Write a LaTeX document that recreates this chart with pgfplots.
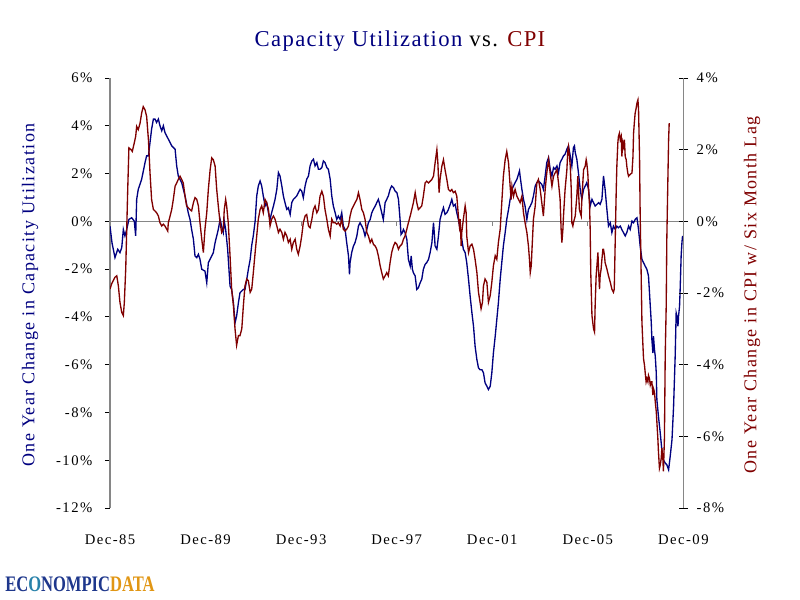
\documentclass[border=0pt]{standalone}
\usepackage{fontspec}
\setmainfont{Liberation Serif}
\newfontfamily\tickfont{Liberation Serif}[LetterSpace=10]
\newfontfamily\labfont{Liberation Serif}[LetterSpace=8]
\newfontfamily\titfont{Liberation Serif}[LetterSpace=6]
\usepackage{graphicx}
\usepackage{pgfplots}
\pgfplotsset{compat=1.18}
\definecolor{cunavy}{RGB}{0,0,128}
\definecolor{cpired}{RGB}{128,0,0}
\definecolor{axgray}{RGB}{134,134,134}
\definecolor{logoblue}{RGB}{30,55,140}
\definecolor{logoglobe}{RGB}{40,130,170}
\definecolor{logogold}{RGB}{225,150,20}
\begin{document}
\begin{tikzpicture}
\path[use as bounding box, fill=white] (0,0) rectangle (600pt,450pt);
\begin{axis}[
  at={(82.5pt,69pt)}, anchor=south west, scale only axis,
  width=430pt, height=322.5pt,
  xmin=0, xmax=288, ymin=-12, ymax=6,
  axis y line*=left, axis x line*=bottom,
  x axis line style={draw=none},
  xtick={0,48,96,144,192,240,288},
  xticklabels={Dec-85,Dec-89,Dec-93,Dec-97,Dec-01,Dec-05,Dec-09},
  major x tick style={draw=none},
  ytick={-12,-10,-8,-6,-4,-2,0,2,4,6},
  yticklabels={-12\%,-10\%,-8\%,-6\%,-4\%,-2\%,0\%,2\%,4\%,6\%},
  y axis line style={axgray, line width=0.8pt},
  major y tick style={black, line width=0.6pt},
  tick align=outside, major tick length=3.75pt,
  ticklabel style={font=\tickfont\fontsize{11}{13}\selectfont},
  xticklabel style={yshift=-13pt},
  yticklabel style={xshift=-6pt},
]
\draw[axgray, line width=0.8pt] (axis cs:0,0) -- (axis cs:288,0);
\pgfplotsinvokeforeach{48,96,144,192,240}{\draw[axgray, line width=0.6pt] (axis cs:#1,0) -- ++(0pt,-3.5pt);}
\addplot[cunavy, line width=1pt] coordinates {
(0,-0.2) (1,-0.9) (2.5,-1.52) (3.9,-1.17) (5.0,-1.31) (5.9,-1.10) (6.7,-0.34) (7.5,-0.61) (8.4,-0.34) (9.5,0.08) (10.9,0.15) (12.2,0.01) (12.9,-0.61) (13.4,0.92) (14.2,1.34) (15.9,1.76) (17.6,2.46) (18.4,2.74) (19.3,2.74) (20.1,3.30) (20.9,3.86) (21.8,4.28) (22.6,4.28) (23.4,4.14) (24.3,4.28) (25.1,4.0) (26.0,3.79) (26.8,4.0) (27.6,3.72) (29.3,3.44) (31.0,3.16) (32.7,3.02) (33.5,2.32) (34.3,1.90) (36.0,1.62) (37.7,1.06) (39.3,0.36) (40.2,0.08) (41.0,-0.34) (41.9,-0.75) (42.7,-1.45) (43.6,-1.52) (44.4,-1.38) (45.2,-1.59) (46.1,-2.01) (47.7,-2.08) (48.6,-2.57) (49.4,-1.73) (51.1,-1.45) (51.9,-1.31) (52.8,-0.89) (54.4,-0.34) (55.3,0.08) (56.1,-0.2) (56.9,-0.47) (57.4,0.01) (58.1,-0.34) (59.1,-1.17) (60.3,-2.71) (61.1,-2.85) (62.0,-3.41) (62.8,-4.25) (63.6,-3.97) (64.5,-3.41) (65.3,-2.99) (67.0,-2.85) (67.8,-2.85) (68.7,-2.43) (69.5,-2.01)
(70.4,-1.6) (71.2,-1.0) (72.0,-0.6) (72.9,0.0) (73.7,1.06) (74.5,1.48) (75.4,1.69) (76.2,1.48) (77.0,1.06) (77.9,0.64) (78.7,0.78) (79.6,0.36) (80.4,0.08) (81.2,0.36) (82.1,0.64) (82.9,0.92) (83.8,1.34) (84.6,2.04) (85.4,1.90) (86.3,1.48) (87.1,1.06) (87.9,0.78) (88.8,0.50) (89.6,0.57) (90.5,0.29) (91.3,0.78) (92.1,0.92) (93.0,0.99) (93.8,1.06) (94.6,1.20) (95.5,1.34) (96.3,1.27) (97.1,0.99) (98.0,1.48) (98.8,1.76) (99.7,1.90) (100.5,2.32) (101.4,2.53) (102.2,2.60) (103.0,2.32) (103.9,2.46) (104.7,2.18) (105.5,2.18) (106.4,2.25) (107.2,2.53) (108.0,2.46) (108.9,2.25) (109.7,2.18) (110.6,1.76) (111.4,1.06) (112.2,0.64) (113.1,0.36) (113.9,0.08) (114.7,0.22) (115.6,0.08) (116.4,0.36) (117.2,-0.2) (118.1,-0.34) (118.9,-0.89) (119.8,-1.45) (120.3,-2.22) (120.6,-1.73) (121.4,-1.31) (122.3,-1.03) (123.1,-0.89) (124.0,-0.61) (124.8,-0.2) (125.6,-0.06) (126.5,-0.2) (127.3,-0.34) (128.1,-0.61) (129.0,-0.34) (129.8,-0.06) (130.7,0.08) (131.5,0.36) (132.3,0.50) (133.2,0.64) (134.0,0.78) (134.8,0.92) (135.7,0.64) (136.5,0.36) (137.3,0.08) (138.2,0.78) (139.0,0.92) (139.8,1.06) (140.7,1.34) (141.5,1.48) (142.4,1.41)
(143.2,1.27) (144.1,1.20) (144.9,0.92) (145.7,0.08) (146.2,-0.55) (146.9,-0.47) (147.4,-0.34) (148.2,-0.47) (149.1,-0.75) (149.9,-1.59) (150.8,-1.87) (151.3,-1.45) (151.9,-2.01) (152.4,-2.15) (153.3,-2.29) (154.1,-2.85) (154.9,-2.78) (155.8,-2.57) (156.6,-2.43) (157.4,-2.01) (158.3,-1.80) (159.1,-1.73) (160.0,-1.59) (160.8,-1.31) (161.7,-0.89) (162.5,-0.06) (163.0,-0.61) (163.3,-1.03) (164.2,-1.17) (165.0,-0.61) (165.8,0.08) (166.7,0.36) (167.5,0.57) (168.3,0.29) (169.2,0.36) (170.0,0.50) (170.9,0.71) (171.7,0.92) (172.5,0.64) (173.4,0.71) (174.2,0.36) (175.0,0.08) (175.9,-0.34) (176.7,-0.75) (177.5,-1.17) (178.4,-1.31) (179.2,-1.73) (180.1,-2.43) (180.9,-3.13) (181.8,-3.83) (182.6,-4.39) (183.4,-5.23) (184.3,-5.79) (185.1,-6.14) (185.9,-6.21) (186.8,-6.21) (187.6,-6.34) (188.4,-6.76) (189.3,-6.90) (190.1,-7.04) (191.0,-6.90) (191.8,-6.34) (192.6,-5.51) (193.5,-4.81) (194.3,-4.11) (195.1,-3.41) (196.0,-2.43) (196.8,-1.73) (197.6,-1.03) (198.5,-0.47) (199.3,0.08) (200.2,0.50) (201.0,0.92) (201.9,1.34) (202.7,1.48) (203.5,1.62) (204.4,1.76) (205.2,1.97) (205.7,2.11) (206.0,1.90) (206.9,1.34) (207.7,0.92) (208.5,0.64) (209.4,0.08) (210.2,0.50) (211.1,0.64) (211.9,0.78) (212.7,1.06) (213.6,1.48) (214.4,1.62) (215.2,1.69)
(216.1,1.62) (216.9,1.55) (217.7,1.34) (218.6,1.90) (219.4,2.46) (220.3,2.67) (221.1,2.18) (222.0,1.90) (222.8,2.25) (223.6,2.18) (224.5,2.32) (225.3,2.04) (226.1,2.46) (227.0,2.60) (227.8,2.74) (228.6,2.81) (229.5,3.02) (230.3,3.16) (231.2,2.74) (232.0,2.32) (232.8,3.09) (233.3,3.16) (233.7,2.88) (234.5,2.60) (235.3,2.04) (236.2,1.34) (237.0,0.92) (237.9,1.34) (238.7,1.48) (239.5,1.62) (240.4,1.34) (241.2,0.64) (242.1,0.92) (242.9,0.78) (243.7,0.64) (244.6,0.71) (245.4,0.78) (246.2,0.71) (247.1,0.92) (247.9,1.90) (248.7,1.34) (249.6,0.50) (250.4,-0.2) (251.3,-0.06) (252.1,-0.47) (252.9,-0.2) (253.8,-0.34) (254.6,-0.2) (255.4,-0.27) (256.3,-0.2) (257.1,-0.34) (257.9,-0.47) (258.8,-0.61) (259.6,-0.47) (260.5,-0.2) (261.3,-0.34) (262.2,0.01) (263.0,-0.06) (263.8,0.08) (264.7,0.15) (265.5,-0.34) (266.3,-1.03) (267.2,-1.59) (268.0,-1.73) (268.8,-1.87) (269.7,-2.01) (270.5,-2.29) (271.4,-3.55) (271.9,-4.25) (272.2,-4.95) (272.7,-5.51) (273.0,-4.81) (273.5,-5.37) (273.9,-5.65) (274.4,-6.34) (274.7,-7.46) (275.5,-8.16) (276.4,-8.86) (277.2,-9.56) (278.0,-9.98) (278.9,-10.12) (279.7,-10.19) (280.6,-10.40) (281.4,-9.84) (282.3,-9.14) (283.1,-7.74) (283.9,-5.65) (284.4,-3.83) (284.8,-3.97) (285.3,-4.39) (285.6,-3.97) (286.1,-3.55) (286.4,-2.85) (286.9,-1.45) (287.3,-0.89) (287.6,-0.61)
};
\end{axis}
\begin{axis}[
  at={(82.5pt,69pt)}, anchor=south west, scale only axis,
  width=430pt, height=322.5pt,
  xmin=0, xmax=288, ymin=-8, ymax=4,
  axis y line*=right, axis x line=none,
  ytick={-8,-6,-4,-2,0,2,4},
  yticklabels={-8\%,-6\%,-4\%,-2\%,0\%,2\%,4\%},
  y axis line style={axgray, line width=0.8pt},
  major y tick style={black, line width=0.6pt},
  tick align=center, major tick length=7pt,
  yticklabel style={font=\tickfont\fontsize{11}{13}\selectfont, xshift=3pt},
]
\addplot[cpired, line width=1pt] coordinates {
(0,-1.89) (0.8,-1.75) (2.5,-1.56) (3.4,-1.52) (4.2,-1.80) (5.0,-2.26) (5.9,-2.54) (6.7,-2.63) (7.2,-2.26) (7.9,-1.33) (8.4,-0.22) (8.9,0.89) (9.5,2.05) (10.6,2.0) (11.2,1.95) (12.2,2.19) (12.9,2.37) (13.4,2.65) (14.2,2.56) (15.1,2.74) (15.9,3.02) (16.7,3.20) (17.6,3.11) (18.4,2.93) (19.3,2.28) (20.1,1.35) (20.9,0.61) (21.8,0.33) (22.6,0.29) (23.4,0.24) (24.3,0.15) (25.1,-0.04) (26.0,-0.13) (26.8,-0.08) (27.6,-0.13) (28.5,-0.22) (29.0,-0.27) (29.3,-0.04) (30.2,0.15) (31.0,0.33) (31.8,0.61) (32.7,0.98) (33.5,1.07) (34.3,1.17) (35.2,1.26) (36.0,1.17) (36.8,1.07) (37.7,0.70) (38.5,0.43) (39.3,0.38) (40.2,0.33) (41.0,0.29) (41.9,0.52) (42.7,0.66) (43.6,0.61) (44.4,0.43) (45.2,-0.04) (46.1,-0.50) (46.9,-0.87) (47.7,-0.22) (48.6,0.24) (49.4,0.89) (50.3,1.44) (51.1,1.77) (51.9,1.72) (52.8,1.54) (53.6,0.89) (54.4,0.43) (55.3,-0.04) (56.1,-0.31) (56.9,-0.22) (57.4,0.33) (58.1,0.61) (58.6,0.43) (59.4,-0.04) (60.3,-0.96) (61.1,-1.89) (62.0,-2.35) (62.8,-3.0) (63.6,-3.46) (64.5,-3.19) (65.3,-3.19) (66.2,-3.0) (67.0,-2.35) (67.8,-1.80) (68.7,-1.61) (69.5,-1.66)
(70.4,-1.98) (71.2,-1.89) (72.0,-1.43) (72.9,-0.87) (73.7,-0.41) (74.5,0.06) (75.4,0.33) (76.2,0.43) (77.0,0.24) (77.9,0.61) (78.7,0.52) (79.6,0.33) (80.4,-0.13) (81.2,0.06) (82.1,0.15) (82.9,0.06) (83.8,-0.13) (84.6,-0.31) (85.4,-0.22) (86.3,-0.31) (87.1,-0.50) (87.9,-0.31) (88.8,-0.41) (89.6,-0.59) (90.5,-0.50) (91.3,-0.78) (92.1,-0.59) (93.0,-0.50) (93.8,-0.78) (94.6,-0.92) (95.5,-0.69) (96.3,-0.41) (97.1,-0.04) (98.0,0.15) (98.8,0.19) (99.7,-0.13) (100.5,-0.18) (101.4,0.06) (102.2,0.33) (103.0,0.43) (103.9,0.24) (104.7,0.33) (105.5,0.70) (106.4,0.84) (107.2,0.70) (108.0,0.33) (108.9,0.06) (109.7,-0.22) (110.6,-0.41) (111.4,0.06) (112.2,-0.04) (113.1,-0.04) (113.9,-0.08) (114.7,-0.04) (115.6,-0.13) (116.4,0.06) (117.2,-0.22) (118.1,-0.27) (118.9,-0.22) (119.8,-0.13) (120.6,0.15) (121.4,0.33) (122.3,0.43) (123.1,0.52) (124.0,0.61) (124.8,0.80) (125.6,0.61) (126.5,0.33) (127.3,0.24) (128.1,0.06) (129.0,-0.31) (129.8,-0.41) (130.7,-0.59) (131.5,-0.50) (132.3,-0.64) (133.2,-0.69) (134.0,-0.78) (134.8,-0.96) (135.7,-1.24) (136.5,-1.43) (137.3,-1.61) (138.2,-1.52) (139.0,-1.43) (139.8,-1.52) (140.7,-1.15) (141.5,-0.87) (142.4,-0.69)
(143.2,-0.59) (144.1,-0.64) (144.9,-0.78) (145.7,-0.69) (146.6,-0.64) (147.4,-0.50) (148.2,-0.41) (149.1,-0.22) (149.9,-0.04) (150.8,0.15) (151.6,0.33) (152.4,0.52) (153.3,0.80) (154.1,0.52) (154.9,0.33) (155.8,0.38) (156.6,0.43) (157.4,0.70) (158.3,1.07) (159.1,1.12) (160.0,1.07) (160.8,1.12) (161.7,1.17) (162.5,1.26) (163.3,1.63) (164.2,2.0) (164.7,1.63) (165.3,0.80) (165.8,1.17) (166.7,1.54) (167.5,1.72) (168.3,1.44) (169.2,1.17) (170.0,0.89) (170.9,0.84) (171.7,0.89) (172.5,0.80) (173.4,0.84) (174.2,0.70) (175.0,0.15) (175.5,-0.13) (175.9,0.06) (176.4,-0.69) (176.7,-0.31) (177.5,0.06) (178.4,0.43) (178.9,0.24) (179.2,-0.41) (180.1,-0.87) (180.9,-0.69) (181.8,-0.64) (182.6,-0.78) (183.4,-1.06) (184.3,-1.43) (185.1,-1.98) (185.9,-2.26) (186.4,-2.44) (187.1,-2.26) (187.6,-1.80) (188.4,-1.61) (189.3,-1.70) (190.1,-2.26) (191.0,-2.07) (191.8,-1.70) (192.6,-1.24) (193.5,-0.96) (194.3,-1.06) (195.1,-0.59) (196.0,-0.22) (196.8,0.52) (197.6,1.26) (198.5,1.72) (199.3,1.95) (200.2,1.63) (201.0,0.98) (201.5,0.61) (201.9,0.98) (202.7,0.70) (203.5,0.89) (204.4,0.70) (205.2,0.61) (206.0,0.52) (206.9,0.70) (207.7,0.24) (208.5,-0.04) (209.4,-0.31) (210.2,-0.69) (210.7,-1.06) (211.1,-1.43) (211.6,-1.24) (211.9,-0.87) (212.7,0.06) (213.6,0.43) (214.4,1.07) (215.2,1.17)
(216.1,0.89) (216.9,0.52) (217.7,0.15) (218.6,0.89) (219.4,1.35) (220.3,1.72) (221.1,1.35) (222.0,0.98) (222.8,1.26) (223.6,1.35) (224.5,1.44) (225.3,1.07) (226.1,0.61) (226.6,-0.22) (227.0,-0.59) (227.5,-0.22) (227.8,0.15) (228.6,0.89) (229.5,1.44) (230.0,2.0) (230.3,2.09) (230.8,1.81) (231.2,1.54) (231.7,0.89) (232.0,-0.04) (232.5,-0.13) (232.8,-0.04) (233.7,0.15) (234.5,0.70) (235.0,1.26) (235.3,0.89) (235.8,0.33) (236.2,0.24) (236.7,0.15) (237.0,0.61) (237.5,1.07) (237.9,1.44) (238.7,1.54) (239.2,1.72) (239.5,1.63) (240.0,1.35) (240.4,0.89) (240.9,0.43) (241.2,-0.22) (241.5,-1.43) (242.1,-2.63) (242.9,-3.0) (243.4,-3.09) (243.7,-2.35) (244.2,-1.52) (244.6,-1.24) (245.1,-0.87) (245.4,-1.33) (245.9,-1.89) (246.2,-1.52) (246.7,-1.33) (247.1,-1.06) (247.6,-0.78) (247.9,-0.78) (248.4,-0.96) (248.7,-1.15) (249.6,-1.33) (250.4,-1.52) (251.3,-1.70) (252.1,-1.89) (252.9,-1.98) (253.3,-1.89) (253.8,-0.50) (254.3,0.89) (254.6,1.54) (255.1,2.19) (255.4,2.37) (255.9,2.46) (256.3,2.28) (256.8,2.37) (257.1,1.81) (257.6,2.19) (257.9,2.09) (258.4,2.28) (258.8,1.81) (259.3,1.72) (259.6,1.54) (260.1,1.35) (260.5,1.26) (261.3,1.31) (262.2,1.35) (262.7,1.81) (263.0,2.46) (263.5,2.83) (263.8,3.02) (264.3,3.16) (264.7,3.30) (265.2,3.39) (265.5,3.11) (266.0,1.81) (266.3,0.24) (266.8,-1.43) (267.2,-2.81) (267.7,-3.46) (268.0,-3.83) (268.5,-4.02) (268.8,-4.20) (269.3,-4.48) (269.7,-4.39) (270.2,-4.48) (270.5,-4.30) (271.0,-4.39) (271.4,-4.57) (271.9,-4.48) (272.2,-4.48) (272.7,-4.85) (273.0,-4.67) (273.5,-4.76) (273.9,-5.04) (274.4,-5.31) (274.7,-5.59) (275.2,-6.06) (275.5,-6.43) (276.0,-6.89) (276.4,-6.80) (276.9,-6.61) (277.2,-6.33) (277.7,-6.61) (278.0,-6.98) (278.5,-6.06) (278.9,-3.74) (279.4,-2.35) (279.7,-0.50) (280.2,1.07) (280.6,2.28) (280.9,2.74)
};
\end{axis}
\node[anchor=base, font=\titfont\fontsize{17}{20}\selectfont] at (300pt,414.75pt) {\textcolor{cunavy}{Capacity Utilization} vs. \textcolor{cpired}{CPI}};
\node[rotate=90, font=\labfont\fontsize{13.5}{16}\selectfont, text=cunavy] at (22.5pt,228.75pt) {One Year Change in Capacity Utilization};
\node[rotate=90, font=\labfont\fontsize{13.5}{16}\selectfont, text=cpired] at (564pt,228.75pt) {One Year Change in CPI w/ Six Month Lag};
\node[anchor=west, inner sep=0pt] at (3.75pt,12pt) {\resizebox{112pt}{11pt}{\bfseries\color{logoblue}EC\textcolor{logoglobe}{O}NOMPIC\textcolor{logogold}{DATA}}};
\end{tikzpicture}
\end{document}
